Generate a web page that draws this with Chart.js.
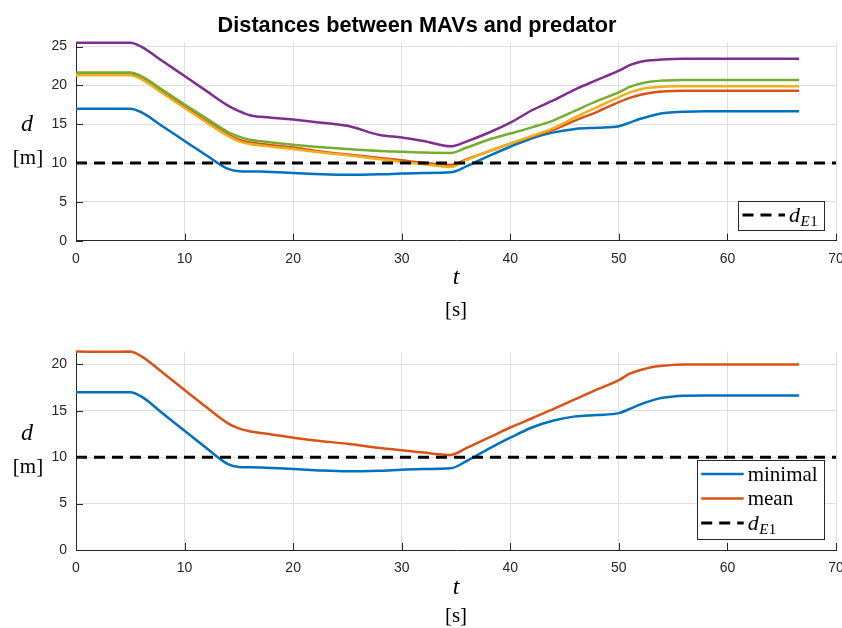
<!DOCTYPE html>
<html>
<head>
<meta charset="utf-8">
<script src="https://cdn.jsdelivr.net/npm/chart.js@4.4.1/dist/chart.umd.min.js"></script>
<style>
  html, body { margin: 0; padding: 0; background: #fff; }
  #wrap { position: relative; width: 842px; height: 628px; }
  canvas { position: absolute; left: 0; }
</style>
</head>
<body>
<div id="wrap">
  <canvas id="topChart" width="842" height="330" style="top:0"></canvas>
  <canvas id="bottomChart" width="842" height="314" style="top:314px"></canvas>
</div>
<script>
// time samples [s]
const timeS = [0, 5, 6, 8, 10, 12, 14, 15, 16, 17, 18, 20, 22, 25, 28, 30, 32, 34.5, 36, 38, 40, 42, 44, 46, 48, 50, 51, 52, 53, 54, 55, 56, 58, 62, 66.6];

// distance of each MAV to the predator [m]
const mav1 = [17, 17, 16.55, 14.7, 12.85, 11.0, 9.25, 8.95, 8.92, 8.9, 8.85, 8.72, 8.6, 8.48, 8.55, 8.65, 8.72, 8.8, 9.6, 10.9, 12.1, 13.2, 13.95, 14.4, 14.55, 14.75, 15.2, 15.7, 16.1, 16.4, 16.55, 16.62, 16.66, 16.66, 16.66];
const mav2 = [21.4, 21.4, 20.9, 19.1, 17.25, 15.4, 13.7, 13.0, 12.65, 12.45, 12.3, 12.0, 11.6, 11.1, 10.65, 10.35, 10.05, 9.75, 10.5, 11.5, 12.5, 13.4, 14.3, 15.5, 16.6, 17.85, 18.4, 18.8, 19.05, 19.2, 19.27, 19.3, 19.3, 19.3, 19.3];
const mav3 = [21.3, 21.3, 20.8, 18.95, 17.1, 15.25, 13.5, 12.8, 12.45, 12.25, 12.1, 11.8, 11.45, 11.0, 10.5, 10.15, 9.85, 9.5, 10.4, 11.5, 12.5, 13.5, 14.5, 15.9, 17.2, 18.5, 19.1, 19.5, 19.72, 19.83, 19.88, 19.9, 19.9, 19.9, 19.9];
const mav4 = [25.5, 25.5, 25.0, 23.1, 21.2, 19.3, 17.4, 16.7, 16.15, 15.95, 15.85, 15.6, 15.3, 14.8, 13.6, 13.3, 12.85, 12.15, 12.8, 13.9, 15.2, 16.8, 18.1, 19.5, 20.7, 21.9, 22.6, 23.05, 23.25, 23.35, 23.4, 23.42, 23.42, 23.42, 23.42];
const mav5 = [21.65, 21.65, 21.2, 19.4, 17.55, 15.75, 14.0, 13.4, 13.0, 12.8, 12.65, 12.35, 12.1, 11.8, 11.55, 11.45, 11.35, 11.3, 12.0, 13.0, 13.8, 14.6, 15.5, 16.75, 18.0, 19.1, 19.8, 20.25, 20.5, 20.62, 20.68, 20.7, 20.7, 20.7, 20.7];

// bottom plot
const minimalDist = mav1; // same curve as the closest MAV
const meanDist = [21.4, 21.4, 20.9, 19.1, 17.25, 15.4, 13.65, 13.1, 12.8, 12.6, 12.45, 12.1, 11.8, 11.45, 11.0, 10.75, 10.5, 10.25, 11.0, 12.1, 13.2, 14.2, 15.2, 16.25, 17.3, 18.3, 19.0, 19.4, 19.7, 19.85, 19.95, 20.0, 20.0, 20.0, 20.0];

const thresholdX = [0, 70];
const thresholdD = [10, 10];

const xTicks = [0, 10, 20, 30, 40, 50, 60, 70];
const yTicksTop = [0, 5, 10, 15, 20, 25];
const yTicksBottom = [0, 5, 10, 15, 20];

const mavColors = ["#0072BD", "#D95319", "#EDB120", "#7E2F8E", "#77AC30"];
const bottomLabels = ["minimal", "mean"];

const INK = "#262626";
const SERIF = "'Liberation Serif', 'DejaVu Serif', serif";
const SANS = "'Liberation Sans', Arial, sans-serif";

Chart.defaults.font.family = SANS;
Chart.defaults.font.size = 14;
Chart.defaults.color = INK;

function toPoints(xs, ys) {
  return xs.map((x, i) => ({ x: x, y: ys[i] }));
}

function lineSet(label, values, color, order) {
  return {
    label: label,
    data: toPoints(timeS, values),
    borderColor: color,
    borderWidth: 2.5,
    pointRadius: 0,
    cubicInterpolationMode: "monotone",
    clip: 4,
    order: order
  };
}

function thresholdSet() {
  return {
    label: "dE1",
    data: toPoints(thresholdX, thresholdD),
    borderColor: "#000",
    borderWidth: 3,
    borderDash: [11, 7],
    pointRadius: 0,
    order: 0
  };
}

// draws "d" with subscript "E1"
function drawDE1(ctx, x, y, size) {
  ctx.textAlign = "left";
  ctx.font = "italic " + size + "px " + SERIF;
  ctx.fillText("d", x, y);
  let w = ctx.measureText("d").width;
  const sub = Math.round(size * 0.7);
  ctx.font = "italic " + sub + "px " + SERIF;
  ctx.fillText("E", x + w + 0.5, y + 4);
  const w2 = ctx.measureText("E").width;
  ctx.font = sub + "px " + SERIF;
  ctx.fillText("1", x + w + w2 + 1, y + 4);
}

function decorPlugin(cfg) {
  return {
    id: "decor",
    afterDraw(chart) {
      const ctx = chart.ctx;
      const a = chart.chartArea;
      const xs = chart.scales.x;
      const ys = chart.scales.y;
      ctx.save();

      // inward tick marks
      ctx.strokeStyle = INK;
      ctx.lineWidth = 1;
      ctx.beginPath();
      xs.ticks.forEach(t => {
        const px = Math.round(xs.getPixelForValue(t.value)) + 0.5;
        ctx.moveTo(px, a.bottom);
        ctx.lineTo(px, a.bottom - 7);
      });
      ys.ticks.forEach(t => {
        const py = Math.round(ys.getPixelForValue(t.value)) + 0.5;
        ctx.moveTo(a.left, py);
        ctx.lineTo(a.left + 7, py);
      });
      ctx.stroke();

      // axis labels
      ctx.fillStyle = "#000";
      ctx.textAlign = "center";
      ctx.textBaseline = "alphabetic";
      const cy = (a.top + a.bottom) / 2;
      const cx = (a.left + a.right) / 2;
      ctx.font = "italic 24px " + SERIF;
      ctx.fillText("d", 27, cy - 11);
      ctx.fillText("t", cx, a.bottom + 43.5);
      ctx.font = "21px " + SERIF;
      ctx.fillText("[m]", 28, cy + 22.5);
      ctx.fillText("[s]", cx, a.bottom + cfg.sOffset);

      // title
      if (cfg.title) {
        let size = 21;
        ctx.font = "bold " + size + "px " + SANS;
        const w = ctx.measureText(cfg.title).width;
        size = size * 399 / w;
        ctx.font = "bold " + size.toFixed(2) + "px " + SANS;
        ctx.fillText(cfg.title, 417, 32);
      }

      // legend
      const L = cfg.legend;
      const bx = a.right - 12 - L.w;
      const by = a.bottom - 11.5 - L.h;
      ctx.fillStyle = "#fff";
      ctx.fillRect(bx, by, L.w, L.h);
      ctx.strokeStyle = INK;
      ctx.lineWidth = 1;
      ctx.strokeRect(Math.round(bx) + 0.5, Math.round(by) + 0.5, Math.round(L.w), Math.round(L.h));
      L.items.forEach((ds, i) => {
        const ry = by + L.first + i * 24.5;
        ctx.save();
        ctx.strokeStyle = ds.borderColor;
        ctx.lineWidth = ds.borderWidth;
        ctx.setLineDash(ds.borderDash || []);
        ctx.beginPath();
        ctx.moveTo(bx + 4.5, ry);
        ctx.lineTo(bx + 47, ry);
        ctx.stroke();
        ctx.restore();
        ctx.fillStyle = "#000";
        if (ds.label === "dE1") {
          drawDE1(ctx, bx + 51, ry + 7, 22);
        } else {
          ctx.textAlign = "left";
          ctx.font = "21px " + SERIF;
          ctx.fillText(ds.label, bx + 51, ry + 6.5);
        }
      });

      ctx.restore();
    }
  };
}

function makeOptions(canvasH, yMax, yTicks, areaTop, areaBottom) {
  return {
    responsive: false,
    animation: false,
    layout: { padding: { top: areaTop, right: 6, left: 0, bottom: 0 } },
    plugins: { legend: { display: false }, tooltip: { enabled: false } },
    scales: {
      x: {
        type: "linear",
        min: 0,
        max: 70,
        afterBuildTicks: s => { s.ticks = xTicks.map(v => ({ value: v })); },
        afterFit: s => {
          s.height = canvasH - areaBottom;
          s.paddingLeft = 0; s.paddingRight = 0;
        },
        ticks: { padding: 10, color: INK, font: { size: 14 } },
        grid: { color: "#dfdfdf", lineWidth: 1, drawTicks: false },
        border: { display: true, color: INK, width: 1 }
      },
      y: {
        type: "linear",
        min: 0,
        max: yMax,
        afterBuildTicks: s => { s.ticks = yTicks.map(v => ({ value: v })); },
        afterFit: s => {
          s.width = 76;
          s.paddingTop = 0; s.paddingBottom = 0;
        },
        ticks: { padding: 9, color: INK, font: { size: 14 } },
        grid: { color: "#dfdfdf", lineWidth: 1, drawTicks: false },
        border: { display: true, color: INK, width: 1 }
      }
    }
  };
}

// top: every MAV
const topThreshold = thresholdSet();
const topSets = [mav1, mav2, mav3, mav4, mav5].map((v, i) => lineSet("MAV " + (i + 1), v, mavColors[i], 10 - i));
topSets.push(topThreshold);

new Chart(document.getElementById("topChart"), {
  type: "line",
  data: { datasets: topSets },
  options: makeOptions(330, 25.5, yTicksTop, 42.7, 240.7),
  plugins: [decorPlugin({
    title: "Distances between MAVs and predator",
    sOffset: 75,
    legend: { w: 86, h: 28.6, first: 14.3, items: [topThreshold] }
  })]
});

// bottom: minimal and mean distance
const minSet = lineSet(bottomLabels[0], minimalDist, mavColors[0], 3);
const meanSet = lineSet(bottomLabels[1], meanDist, mavColors[1], 2);
const bottomThreshold = thresholdSet();

new Chart(document.getElementById("bottomChart"), {
  type: "line",
  data: { datasets: [minSet, meanSet, bottomThreshold] },
  options: makeOptions(314, 21.37, yTicksBottom, 37.7, 236),
  plugins: [decorPlugin({
    title: null,
    sOffset: 72,
    legend: { w: 127.3, h: 78.7, first: 14.3, items: [minSet, meanSet, bottomThreshold] }
  })]
});
</script>
</body>
</html>
